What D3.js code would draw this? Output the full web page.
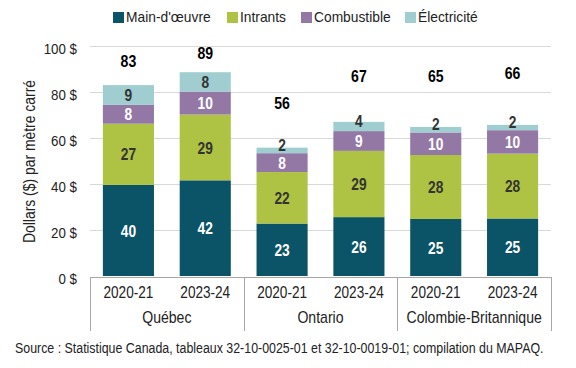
<!DOCTYPE html>
<html><head><meta charset="utf-8">
<script src="https://cdn.jsdelivr.net/npm/d3@7"></script>
<style>
body{margin:0;background:#fff;}
text{font-family:"Liberation Sans",Arial,sans-serif;}
</style></head>
<body><svg id="c" width="576" height="368"></svg>
<script>
const regions = ["Québec","Ontario","Colombie-Britannique"];
const years = ["2020-21","2023-24"];
const seriesNames = ["Main-d'œuvre","Intrants","Combustible","Électricité"];
const seriesColors = ["#0b5366","#aec244","#9378a6","#9fcdd0"];
const labelColors = ["#ffffff","#333333","#ffffff","#333333"];
// order: Québec 20-21, Québec 23-24, Ontario 20-21, Ontario 23-24, CB 20-21, CB 23-24
const mainOeuvre = [39.6,41.6,22.8,25.6,24.8,25.0];
const intrants   = [26.6,28.6,22.4,28.8,27.8,28.2];
const combustible= [8.2,10.0,8.2,8.6,9.8,10.2];
const electricite= [8.6,8.4,2.4,4.0,2.4,2.3];
const totalLabelLevels = [93.5,97,75,87,87,88];
const yTicks = [0,20,40,60,80,100];
const yTitle = "Dollars ($) par mètre carré";
const sourceText = "Source : Statistique Canada, tableaux 32-10-0025-01 et 32-10-0019-01; compilation du MAPAQ.";

const svg = d3.select("#c");
const L=90, R=551, T=46, B=276;
const cats = [];
regions.forEach(r=>years.forEach(y=>cats.push(r+"|"+y)));
const x = d3.scaleBand().domain(cats).range([L,R]).paddingInner(0.335).paddingOuter(0.1675);
const y = d3.scaleLinear().domain([0,100]).range([B,T]);

function nt(parent, px, py, str, opt){
  opt = opt||{};
  return parent.append("text")
    .attr("transform",`translate(${px},${py}) scale(${opt.sx||0.86},1)`)
    .attr("dy","0.35em")
    .attr("text-anchor",opt.anchor||"middle")
    .attr("font-size",opt.size||16)
    .attr("font-weight",opt.bold?"bold":null)
    .attr("fill",opt.fill||"#222")
    .text(str);
}

// gridlines
svg.append("g").selectAll("line").data(yTicks.filter(d=>d>0)).join("line")
  .attr("x1",L).attr("x2",R).attr("y1",d=>y(d)+0.5).attr("y2",d=>y(d)+0.5)
  .attr("stroke","#d9d9d9").attr("stroke-width",1);
// y tick labels
const yl = svg.append("g");
yTicks.forEach(d=>nt(yl,77,y(d)+2.5,d+"\u00a0$",{anchor:"end",size:15.5,sx:0.86}));
svg.append("text").attr("transform",`translate(29,161.5) rotate(-90) scale(0.87,1)`)
  .attr("text-anchor","middle").attr("dy","0.35em").attr("font-size",16).attr("fill","#222").text(yTitle);

const stackData = cats.map((c,i)=>({cat:c, s0:mainOeuvre[i], s1:intrants[i], s2:combustible[i], s3:electricite[i]}));
const stack = d3.stack().keys(["s0","s1","s2","s3"])(stackData);

const g = svg.append("g");
stack.forEach((layer,k)=>{
  g.append("g").selectAll("rect").data(layer).join("rect")
    .attr("x",d=>x(d.data.cat)).attr("width",x.bandwidth())
    .attr("y",d=>y(d[1])).attr("height",d=>y(d[0])-y(d[1]))
    .attr("fill",seriesColors[k]);
});
const lbl = svg.append("g");
stack.forEach((layer,k)=>{
  layer.forEach(d=>{
    const v = d[1]-d[0];
    const cy = (y(d[0])+y(d[1]))/2 - (k===3 && v<5 ? 6 : 0) + 0.5;
    nt(lbl, x(d.data.cat)+x.bandwidth()/2, cy, Math.round(v), {bold:true,size:16,fill:labelColors[k],sx:0.86});
  });
});
// totals
cats.forEach((c,i)=>{
  nt(lbl, x(c)+x.bandwidth()/2, y(totalLabelLevels[i]),
     Math.round(mainOeuvre[i]+intrants[i]+combustible[i]+electricite[i]),
     {bold:true,size:16,fill:"#000",sx:0.88});
});

// category axis
const ax = svg.append("g");
ax.append("line").attr("x1",L).attr("x2",R+0.5).attr("y1",277.5).attr("y2",277.5).attr("stroke","#a6a6a6");
const step = x.step();
[0,2,4,6].map(i=>L+i*step).forEach(b=>ax.append("line").attr("x1",Math.round(b)+0.5).attr("x2",Math.round(b)+0.5)
  .attr("y1",277).attr("y2",331).attr("stroke","#a6a6a6"));
cats.forEach(c=>nt(ax, x(c)+x.bandwidth()/2, 292.5, c.split("|")[1], {size:16,sx:0.85}));
regions.forEach((r,i)=>nt(ax, L+(2*i+1)*step, 317.5, r, {size:16,sx:0.88}));

// legend
const legX = [113,227,301,405];
const lg = svg.append("g");
seriesNames.forEach((n,i)=>{
  lg.append("rect").attr("x",legX[i]).attr("y",12).attr("width",11).attr("height",11).attr("fill",seriesColors[i]);
  nt(lg, legX[i]+13, 17, n, {anchor:"start",size:15,sx:0.92});
});

nt(svg, 15, 348, sourceText, {anchor:"start",size:15,sx:0.826});
</script></body></html>
